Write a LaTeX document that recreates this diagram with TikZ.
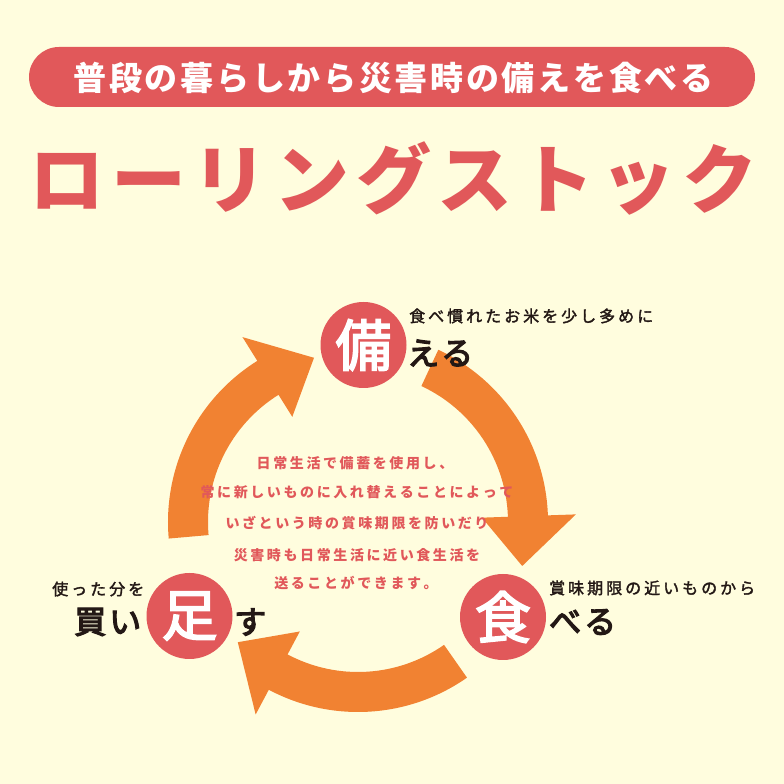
\documentclass[tikz,border=0pt]{standalone}
\usepackage{fontspec}
\newfontfamily\jp{Noto Sans CJK JP}
\newfontfamily\jpm[FakeBold=4]{Noto Sans CJK JP}
\newfontfamily\jpk[FakeBold=3]{Noto Sans CJK JP}
\newfontfamily\jps[FakeBold=2]{Noto Sans CJK JP}
\makeatletter
\newcommand\trk[2]{\@tfor\tk:=#2\do{\tk\hspace{#1}}\unskip}
\makeatother
\definecolor{bg}{RGB}{255,253,222}
\definecolor{coral}{RGB}{225,88,90}
\definecolor{orng}{RGB}{241,130,50}
\definecolor{ink}{RGB}{35,24,21}
\begin{document}
\begin{tikzpicture}[x=1pt,y=1pt,
  banner/.style={inner sep=0pt, text=white, font={\jp\bfseries\fontsize{33}{36}\selectfont}},
  title/.style={inner sep=0pt, text=coral, font={\jp\bfseries\fontsize{75}{80}\selectfont}},
  body/.style={inner sep=0pt, text=coral, font={\jp\bfseries\fontsize{14}{16}\selectfont}},
  small/.style={inner sep=0pt, anchor=west, text=ink, font={\jps\fontsize{16}{18}\selectfont}},
  big/.style={inner sep=0pt, anchor=west, text=ink, font={\jpm\fontsize{32}{34}\selectfont}},
  circ/.style={circle, fill=coral, minimum size=86pt, inner sep=0pt, text=white, font={\jpk\fontsize{56}{58}\selectfont}},
  arrowshape/.style={fill=orng}]
\useasboundingbox (0,0) rectangle (784,784);
\fill[bg] (0,0) rectangle (784,784);
% banner
\fill[coral, rounded corners=30pt] (29,677) rectangle (755,737);
\node[banner] (bannertext) at (393.5,706.5) {\trk{2.7pt}{普段の暮らしから災害時の備えを食べる}};
% title
\node[title] (titletext) at (393.5,606) {\trk{6.6pt}{ローリングストック}};
% arrows
\coordinate (ring) at (358,262);
\foreach \r in {0,120,240} {
  \fill[arrowshape, shift={(ring)}, rotate=\r]
    (65:190pt) arc[start angle=65, end angle=2, radius=190pt]
    -- (2:218pt) -- (-15:170pt) -- (2:124pt) -- (2:150pt)
    arc[start angle=2, end angle=65, radius=150pt] -- cycle;
}
% circles
\node[circ] (bei) at (363.5,439) {備};
\node[circ] (shoku) at (503,167) {食};
\node[circ] (ashi) at (189.5,168) {足};
% labels
\node[small] (l1) at (409,468) {\trk{3pt}{食べ慣れたお米を少し多めに}};
\node[big] (l1b) at (407,431) {\trk{2pt}{える}};
\node[small] (l2) at (549,196) {\trk{3pt}{賞味期限の近いものから}};
\node[big] (l2b) at (549,162) {\trk{3pt}{べる}};
\node[small] (l3) at (52,195) {\trk{3pt}{使った分を}};
\node[big] (l3b) at (74,162) {\trk{3pt}{買い}};
\node[big] (l3c) at (234,162) {す};
% center text
\node[body] (c1) at (355,321) {\trk{2.6pt}{日常生活で備蓄を使用し、}};
\node[body] (c2) at (357,292) {\trk{2.6pt}{常に新しいものに入れ替えることによって}};
\node[body] (c3) at (357,261) {\trk{2.6pt}{いざという時の賞味期限を防いだり}};
\node[body] (c4) at (357,229) {\trk{2.6pt}{災害時も日常生活に近い食生活を}};
\node[body] (c5) at (356,201) {\trk{2.6pt}{送ることができます。}};
\end{tikzpicture}
\end{document}
